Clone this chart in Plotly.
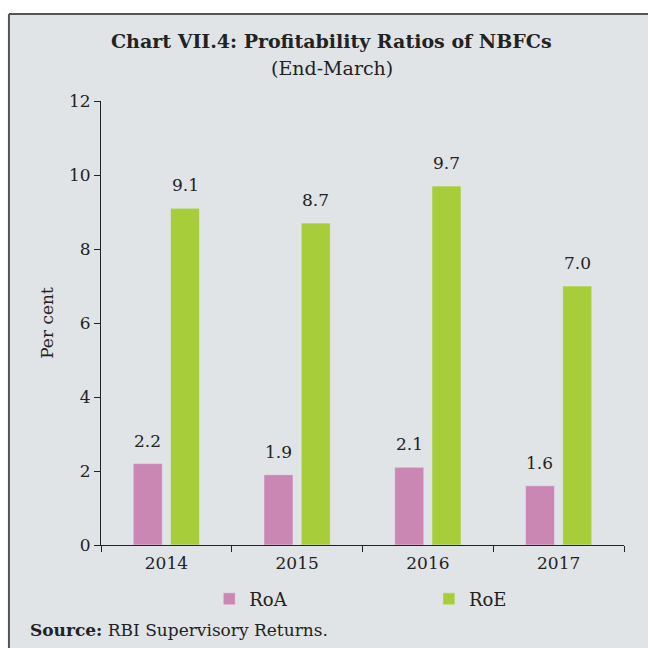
import plotly.graph_objects as go

# Data
years = ["2014", "2015", "2016", "2017"]
roa = [2.2, 1.9, 2.1, 1.6]
roe = [9.1, 8.7, 9.7, 7.0]
y_ticks = [0, 2, 4, 6, 8, 10, 12]

FONT = "DejaVu Serif"
BG = "#E1E4E7"
PINK = "#CA87B3"
GREEN = "#A8CD3A"
INK = "#222"

BARGAP = 0.43
GROUPGAP = 0.22

fig = go.Figure()
fig.add_trace(go.Bar(x=years, y=roa, name="RoA", marker_color=PINK,
                     legend="legend"))
fig.add_trace(go.Bar(x=years, y=roe, name="RoE", marker_color=GREEN,
                     legend="legend2"))

# value labels above bars (offset to the bar centres of each group)
shift = (1 - BARGAP) / 4
annotations = []
for i, (a, e) in enumerate(zip(roa, roe)):
    for val, dx in ((a, -shift), (e, shift)):
        annotations.append(dict(
            x=i + dx, y=val, xref="x", yref="y", text=f"{val:.1f}",
            showarrow=False, yanchor="bottom", yshift=11,
            font=dict(family=FONT, size=17, color=INK),
        ))

annotations += [
    dict(text="<b>Chart VII.4: Profitability Ratios of NBFCs</b>",
         x=0.441, y=1.135, xref="paper", yref="paper", showarrow=False,
         xanchor="center", yanchor="middle",
         font=dict(family=FONT, size=19, color=INK)),
    dict(text="(End-March)", x=0.441, y=1.074, xref="paper", yref="paper",
         showarrow=False, xanchor="center", yanchor="middle",
         font=dict(family=FONT, size=19, color=INK)),
    dict(text="<b>Source:</b> RBI Supervisory Returns.", x=-0.14, y=-0.192,
         xref="paper", yref="paper", xanchor="left", yanchor="middle",
         showarrow=False, font=dict(family=FONT, size=17, color=INK)),
]

legend_style = dict(orientation="h", y=-0.122, xanchor="left", yanchor="middle",
                    font=dict(family=FONT, size=18, color=INK),
                    bgcolor="rgba(0,0,0,0)")

fig.update_layout(
    width=648, height=648,
    margin=dict(l=101, r=24, t=101, b=103),
    paper_bgcolor="white",
    plot_bgcolor="rgba(0,0,0,0)",
    barmode="group", bargap=BARGAP, bargroupgap=GROUPGAP,
    font=dict(family=FONT, size=17, color=INK),
    showlegend=True,
    legend=dict(x=0.207, **legend_style),
    legend2=dict(x=0.627, **legend_style),
    annotations=annotations,
    shapes=[
        dict(type="rect", xref="paper", yref="paper", layer="below",
             x0=-0.176, x1=1.05, y0=-0.25, y1=1.196,
             fillcolor=BG, line_width=0),
        dict(type="line", xref="paper", yref="paper",
             x0=-0.176, x1=1.05, y0=1.196, y1=1.196,
             line=dict(color="#555", width=2)),
        dict(type="line", xref="paper", yref="paper",
             x0=-0.176, x1=-0.176, y0=-0.25, y1=1.196,
             line=dict(color="#555", width=2)),
    ],
)

fig.update_xaxes(
    type="category", showline=True, linecolor=INK, linewidth=1,
    ticks="outside", tickson="boundaries", ticklen=6, tickcolor=INK,
    showgrid=False, tickfont=dict(family=FONT, size=17), ticklabelstandoff=3,
)
fig.update_yaxes(
    range=[0, 12], tickvals=y_ticks, showline=True, linecolor=INK,
    linewidth=1, ticks="outside", ticklen=6, tickcolor=INK,
    showgrid=False, zeroline=False, tickfont=dict(family=FONT, size=17),
    title=dict(text="Per cent", standoff=11, font=dict(family=FONT, size=17)),
)

# drop the browser's default body margin so the figure sits at the page origin
fig.write_html("out.html", config={"displayModeBar": False},
               post_script="document.body.style.margin='0';")
